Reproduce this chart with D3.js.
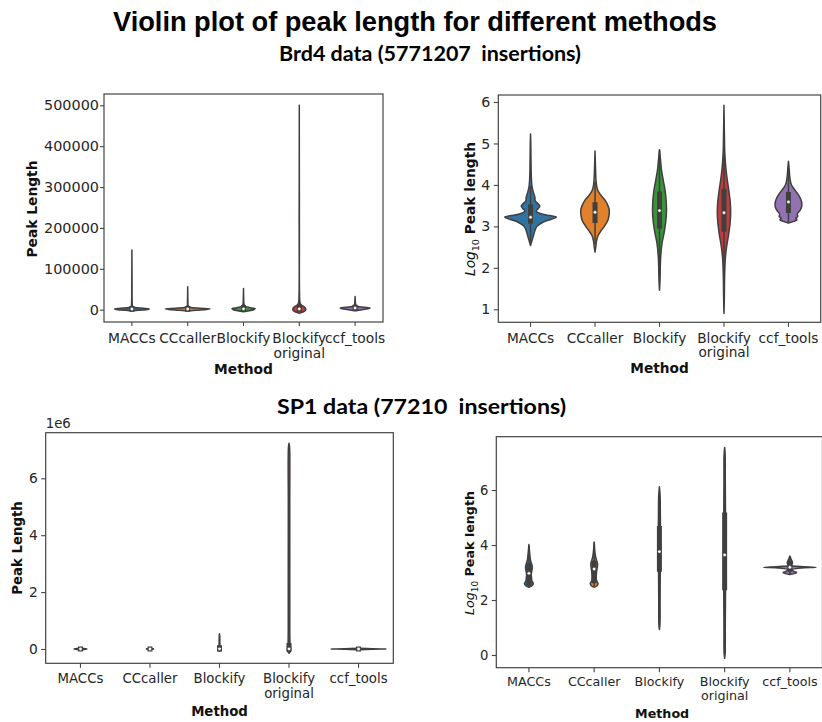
<!DOCTYPE html>
<html>
<head>
<meta charset="utf-8">
<script src="https://cdn.jsdelivr.net/npm/d3@7"></script>
<style>
  html, body { margin: 0; padding: 0; background: #fff; }
  svg { display: block; }
  text { white-space: pre; }
</style>
</head>
<body>
<svg id="chart" width="822" height="722"></svg>
<script>
// ---------------- DATA ----------------
const methods = ["MACCs", "CCcaller", "Blockify", "Blockify\noriginal", "ccf_tools"];
const palette = ["#3274a1", "#e1812c", "#3a923a", "#c03d3e", "#9372b2"];

const mainTitle = "Violin plot of peak length for different methods";
const brd4Title = "Brd4 data (5771207  insertions)";
const sp1Title = "SP1 data (77210  insertions)";

// Brd4, linear peak length : profiles [value, relative density]
const brd4LinTicks = [0, 100000, 200000, 300000, 400000, 500000];
const brd4LinMACCs = [[-3500,0],[-1500,0.3],[0,0.62],[1800,0.78],[3500,0.5],[5500,0.12],[9000,0.03],[20000,0.012],[60000,0.006],[146000,0]];
const brd4LinCCcaller = [[-3000,0],[-1200,0.4],[500,0.85],[2000,1.0],[3800,0.55],[6000,0.1],[10000,0.02],[20000,0.01],[56000,0]];
const brd4LinBlockify = [[-5000,0],[-2500,0.25],[0,0.45],[2500,0.52],[5000,0.3],[8000,0.08],[13000,0.025],[25000,0.01],[52000,0]];
const brd4LinBlockifyOrig = [[-9000,0],[-6000,0.15],[-2000,0.27],[2000,0.29],[7000,0.22],[12000,0.08],[18000,0.03],[40000,0.01],[200000,0.005],[500000,0]];
const brd4LinCcf = [[-2500,0],[-500,0.25],[2000,0.58],[4000,0.67],[6000,0.4],[8500,0.1],[12000,0.03],[20000,0.012],[32000,0]];
const brd4LinQ1 = [1200, 1000, 800, 700, 2500];
const brd4LinMedian = [1700, 1800, 2100, 2000, 4000];
const brd4LinQ3 = [3000, 2900, 5200, 7000, 6000];
const brd4LinWhiskLo = [100, 100, 50, 10, 600];
const brd4LinWhiskHi = [5700, 5700, 12000, 16000, 11000];

// Brd4, log10 peak length
const brd4LogTicks = [1, 2, 3, 4, 5, 6];
const brd4LogMACCs = [[2.54,0],[2.62,0.04],[2.75,0.1],[2.9,0.17],[3.0,0.25],[3.1,0.48],[3.17,0.8],[3.22,1.0],[3.26,0.75],[3.31,0.38],[3.37,0.22],[3.43,0.3],[3.49,0.36],[3.55,0.28],[3.62,0.18],[3.7,0.17],[3.8,0.12],[3.95,0.06],[4.2,0.03],[4.6,0.018],[5.0,0.01],[5.23,0]];
const brd4LogCCcaller = [[2.38,0],[2.5,0.03],[2.65,0.06],[2.78,0.12],[2.88,0.22],[3.0,0.36],[3.15,0.5],[3.3,0.55],[3.4,0.55],[3.5,0.5],[3.62,0.4],[3.72,0.27],[3.82,0.15],[3.92,0.08],[4.1,0.04],[4.4,0.02],[4.82,0]];
const brd4LogBlockify = [[1.46,0],[1.7,0.02],[2.0,0.03],[2.3,0.05],[2.6,0.1],[2.85,0.18],[3.1,0.24],[3.35,0.27],[3.6,0.26],[3.85,0.22],[4.1,0.15],[4.35,0.08],[4.6,0.04],[4.85,0]];
const brd4LogBlockifyOrig = [[0.9,0],[1.3,0.015],[1.8,0.025],[2.2,0.05],[2.5,0.1],[2.8,0.18],[3.1,0.24],[3.35,0.26],[3.6,0.24],[3.9,0.18],[4.2,0.11],[4.5,0.06],[4.8,0.03],[5.3,0.015],[5.92,0]];
const brd4LogCcf = [[3.08,0],[3.12,0.2],[3.16,0.33],[3.2,0.28],[3.24,0.36],[3.3,0.34],[3.36,0.42],[3.45,0.5],[3.55,0.52],[3.65,0.48],[3.75,0.4],[3.85,0.28],[3.95,0.16],[4.05,0.09],[4.2,0.05],[4.4,0.025],[4.57,0]];
const brd4LogQ1 = [3.13, 3.14, 3.0, 2.93, 3.38];
const brd4LogMedian = [3.22, 3.34, 3.38, 3.33, 3.59];
const brd4LogQ3 = [3.47, 3.52, 3.78, 3.85, 3.77];
const brd4LogWhiskLo = [2.62, 2.57, 1.85, 1.55, 3.1];
const brd4LogWhiskHi = [3.98, 4.07, 4.85, 5.2, 4.35];

// SP1, linear peak length
const sp1LinTicks = [0, 2000000, 4000000, 6000000];
const sp1LinMACCs = [[-40000,0],[-15000,0.12],[0,0.23],[15000,0.12],[40000,0]];
const sp1LinCCcaller = [[-30000,0],[-10000,0.08],[0,0.13],[10000,0.08],[30000,0]];
const sp1LinBlockify = [[-80000,0],[-30000,0.03],[10000,0.04],[60000,0.025],[150000,0.015],[450000,0.01],[535000,0]];
const sp1LinBlockifyOrig = [[-150000,0],[-80000,0.05],[20000,0.06],[150000,0.04],[400000,0.03],[1500000,0.028],[5000000,0.026],[7100000,0.02],[7230000,0]];
const sp1LinCcf = [[-25000,0],[-8000,0.5],[0,1.0],[8000,0.5],[25000,0]];
const sp1LinQ1 = [400, 500, 1300, 300, 1300];
const sp1LinMedian = [900, 1350, 5750, 4400, 1550];
const sp1LinQ3 = [1800, 2300, 40000, 123000, 2150];
const sp1LinWhiskLo = [300, 300, 20, 1, 900];
const sp1LinWhiskHi = [9500, 12000, 98000, 307000, 3900];

// SP1, log10 peak length
const sp1LogTicks = [0, 2, 4, 6];
const sp1LogMACCs = [[2.46,0],[2.52,0.12],[2.6,0.17],[2.68,0.12],[2.8,0.1],[2.95,0.09],[3.1,0.12],[3.22,0.13],[3.32,0.1],[3.45,0.06],[3.6,0.04],[3.8,0.02],[4.02,0]];
const sp1LogCCcaller = [[2.46,0],[2.52,0.11],[2.6,0.15],[2.68,0.1],[2.8,0.08],[3.0,0.09],[3.2,0.12],[3.32,0.13],[3.45,0.09],[3.6,0.05],[3.8,0.025],[4.11,0]];
const sp1LogBlockify = [[0.93,0],[1.1,0.02],[2.0,0.025],[2.7,0.03],[3.2,0.035],[3.7,0.04],[4.2,0.04],[4.7,0.04],[5.2,0.035],[5.7,0.03],[5.9,0.02],[6.12,0]];
const sp1LogBlockifyOrig = [[-0.12,0],[0.1,0.02],[1.0,0.025],[1.8,0.03],[2.5,0.035],[3.2,0.04],[4.0,0.04],[4.8,0.035],[5.5,0.03],[6.3,0.025],[7.3,0.02],[7.55,0]];
const sp1LogCcf = [[2.93,0],[2.97,0.2],[3.0,0.26],[3.04,0.15],[3.1,0.08],[3.16,0.4],[3.19,1.0],[3.22,0.4],[3.26,0.06],[3.35,0.1],[3.42,0.08],[3.5,0.04],[3.6,0]];
const sp1LogQ1 = [2.62, 2.7, 3.12, 2.45, 3.12];
const sp1LogMedian = [2.97, 3.13, 3.76, 3.64, 3.19];
const sp1LogQ3 = [3.25, 3.35, 4.6, 5.09, 3.33];
const sp1LogWhiskLo = [2.5, 2.5, 1.35, 0.0, 2.95];
const sp1LogWhiskHi = [3.98, 4.08, 5.7, 7.2, 3.55];

// ---------------- DRAWING ----------------
const svg = d3.select("#chart");
svg.append("rect").attr("width", 822).attr("height", 722).attr("fill", "#fff");

const INK = "#262626";
const GRAY = "#3f3f3f";

function drawPanel(cfg) {
  const g = svg.append("g");
  const x = d3.scaleBand().domain(methods).range([cfg.left, cfg.right]);
  const y = d3.scaleLinear().domain(cfg.domain).range([cfg.bottom, cfg.top]);
  const w = d3.scaleLinear().domain([0, 1]).range([0, x.bandwidth() * 0.4]);

  const clipId = "clip_" + cfg.id;
  svg.append("clipPath").attr("id", clipId)
    .append("rect").attr("x", cfg.left).attr("y", cfg.top)
    .attr("width", cfg.right - cfg.left).attr("height", cfg.bottom - cfg.top);

  const plot = g.append("g").attr("clip-path", `url(#${clipId})`);

  methods.forEach((m, i) => {
    const cx = x(m) + x.bandwidth() / 2;
    const prof = cfg.profiles[i];
    const area = d3.area()
      .y(d => y(d[0]))
      .x0(d => cx - w(Math.max(0, d[1])))
      .x1(d => cx + w(Math.max(0, d[1])))
      .curve(d3.curveCatmullRom.alpha(0.5));
    plot.append("path")
      .attr("d", area(prof))
      .attr("fill", palette[i])
      .attr("stroke", GRAY)
      .attr("stroke-width", 1.5)
      .attr("stroke-linejoin", "round");
    // whisker
    plot.append("line")
      .attr("x1", cx).attr("x2", cx)
      .attr("y1", y(cfg.wlo[i])).attr("y2", y(cfg.whi[i]))
      .attr("stroke", GRAY).attr("stroke-width", 1.5);
    // box
    plot.append("line")
      .attr("x1", cx).attr("x2", cx)
      .attr("y1", y(cfg.q1[i])).attr("y2", y(cfg.q3[i]))
      .attr("stroke", GRAY).attr("stroke-width", 5)
      .attr("stroke-linecap", "square");
    // median
    plot.append("circle")
      .attr("cx", cx).attr("cy", y(cfg.med[i]))
      .attr("r", 1.7)
      .attr("fill", "#fff")
      .attr("stroke", GRAY).attr("stroke-width", 0.5);
  });

  // frame
  g.append("rect")
    .attr("x", cfg.left).attr("y", cfg.top)
    .attr("width", cfg.right - cfg.left).attr("height", cfg.bottom - cfg.top)
    .attr("fill", "none").attr("stroke", "#444").attr("stroke-width", 1.2);

  // y axis
  const ya = g.append("g").attr("transform", `translate(${cfg.left},0)`)
    .call(d3.axisLeft(y).tickValues(cfg.ticks).tickFormat(cfg.fmt)
      .tickSize(cfg.tickLen).tickPadding(cfg.yPad));
  ya.select(".domain").remove();
  ya.selectAll(".tick line").attr("stroke", "#444").attr("stroke-width", 1.1);
  ya.selectAll(".tick text").attr("fill", INK)
    .attr("font-family", "DejaVu Sans").attr("font-size", cfg.yfs || cfg.fs);

  // x axis
  const xa = g.append("g").attr("transform", `translate(0,${cfg.bottom})`)
    .call(d3.axisBottom(x).tickSize(cfg.tickLen).tickPadding(cfg.xPad));
  xa.select(".domain").remove();
  xa.selectAll(".tick line").attr("stroke", "#444").attr("stroke-width", 1.1);
  xa.selectAll(".tick text").attr("fill", INK)
    .attr("font-family", "DejaVu Sans").attr("font-size", cfg.fs)
    .each(function (d) {
      const t = d3.select(this);
      const lines = d.split("\n");
      t.text(null);
      lines.forEach((l, k) => {
        t.append("tspan").attr("x", 0).attr("dy", k === 0 ? "0.71em" : "1.08em").text(l);
      });
    });

  // x label
  g.append("text")
    .attr("x", (cfg.left + Math.min(cfg.right, 822)) / 2 + (cfg.xlabDx || 0))
    .attr("y", cfg.xlabY)
    .attr("text-anchor", "middle")
    .attr("font-family", "DejaVu Sans").attr("font-weight", "bold")
    .attr("font-size", cfg.fs).attr("fill", "#111")
    .text("Method");

  // y label
  const yl = g.append("text")
    .attr("transform", `translate(${cfg.ylabX},${cfg.ylabY}) rotate(-90)`)
    .attr("text-anchor", "middle")
    .attr("font-family", "DejaVu Sans")
    .attr("font-size", cfg.fs).attr("fill", "#111");
  if (cfg.logLabel) {
    yl.append("tspan").attr("font-style", "italic").text("Log");
    yl.append("tspan").attr("font-size", cfg.fs * 0.7).attr("dy", cfg.fs * 0.28).text("10");
    yl.append("tspan").attr("font-weight", "bold").attr("dy", -cfg.fs * 0.28).text(" Peak length");
  } else {
    yl.attr("font-weight", "bold").text("Peak Length");
  }

  if (cfg.offsetText) {
    g.append("text")
      .attr("x", cfg.left).attr("y", cfg.top - 5)
      .attr("font-family", "DejaVu Sans").attr("font-size", cfg.fs)
      .attr("fill", INK).text(cfg.offsetText);
  }
}

drawPanel({
  id: "p1", left: 104, right: 383, top: 94, bottom: 322,
  domain: [-30100, 527600], ticks: brd4LinTicks, fmt: d3.format("d"),
  profiles: [brd4LinMACCs, brd4LinCCcaller, brd4LinBlockify, brd4LinBlockifyOrig, brd4LinCcf],
  q1: brd4LinQ1, med: brd4LinMedian, q3: brd4LinQ3, wlo: brd4LinWhiskLo, whi: brd4LinWhiskHi,
  fs: 13.8, yfs: 14.4, tickLen: 4, yPad: 1, xPad: 7,
  xlabY: 374, ylabX: 36.5, ylabY: 209, logLabel: false
});

drawPanel({
  id: "p2", left: 498.3, right: 820.7, top: 95, bottom: 322.3,
  domain: [0.686, 6.169], ticks: brd4LogTicks, fmt: d3.format("d"),
  profiles: [brd4LogMACCs, brd4LogCCcaller, brd4LogBlockify, brd4LogBlockifyOrig, brd4LogCcf],
  q1: brd4LogQ1, med: brd4LogMedian, q3: brd4LogQ3, wlo: brd4LogWhiskLo, whi: brd4LogWhiskHi,
  fs: 13.7, yfs: 14.2, tickLen: 4.5, yPad: 3.5, xPad: 6,
  xlabY: 373, ylabX: 475, ylabY: 209, logLabel: true
});

drawPanel({
  id: "p3", left: 45.7, right: 393.3, top: 432.7, bottom: 663.3,
  domain: [-503000, 7603000], ticks: sp1LinTicks, fmt: d => d3.format("d")(d / 1e6),
  profiles: [sp1LinMACCs, sp1LinCCcaller, sp1LinBlockify, sp1LinBlockifyOrig, sp1LinCcf],
  q1: sp1LinQ1, med: sp1LinMedian, q3: sp1LinQ3, wlo: sp1LinWhiskLo, whi: sp1LinWhiskHi,
  fs: 13.3, yfs: 13.8, tickLen: 4.5, yPad: 3.5, xPad: 6,
  xlabY: 716, ylabX: 21.5, ylabY: 548, logLabel: false, offsetText: "1e6"
});

drawPanel({
  id: "p4", left: 496.3, right: 822.5, top: 436.7, bottom: 667.7,
  domain: [-0.462, 7.94], ticks: sp1LogTicks, fmt: d3.format("d"),
  profiles: [sp1LogMACCs, sp1LogCCcaller, sp1LogBlockify, sp1LogBlockifyOrig, sp1LogCcf],
  q1: sp1LogQ1, med: sp1LogMedian, q3: sp1LogQ3, wlo: sp1LogWhiskLo, whi: sp1LogWhiskHi,
  fs: 12.7, yfs: 13.2, tickLen: 4.5, yPad: 3.5, xPad: 5,
  xlabY: 718, xlabDx: 3, ylabX: 474, ylabY: 553, logLabel: true
});

// titles
svg.append("text")
  .attr("x", 415).attr("y", 31).attr("text-anchor", "middle")
  .attr("font-family", "Liberation Sans, Arial, sans-serif").attr("font-weight", "bold")
  .attr("font-size", 27).attr("fill", "#000")
  .attr("textLength", 604).attr("lengthAdjust", "spacingAndGlyphs")
  .text(mainTitle);

svg.append("text")
  .attr("x", 430).attr("y", 61).attr("text-anchor", "middle")
  .attr("font-family", "Lato, Open Sans, sans-serif").attr("font-weight", "bold")
  .attr("font-size", 21).attr("fill", "#000")
  .attr("textLength", 302).attr("lengthAdjust", "spacingAndGlyphs")
  .text(brd4Title);

svg.append("text")
  .attr("x", 421.5).attr("y", 414).attr("text-anchor", "middle")
  .attr("font-family", "Lato, Open Sans, sans-serif").attr("font-weight", "bold")
  .attr("font-size", 21).attr("fill", "#000")
  .attr("textLength", 289).attr("lengthAdjust", "spacingAndGlyphs")
  .text(sp1Title);
</script>
</body>
</html>
